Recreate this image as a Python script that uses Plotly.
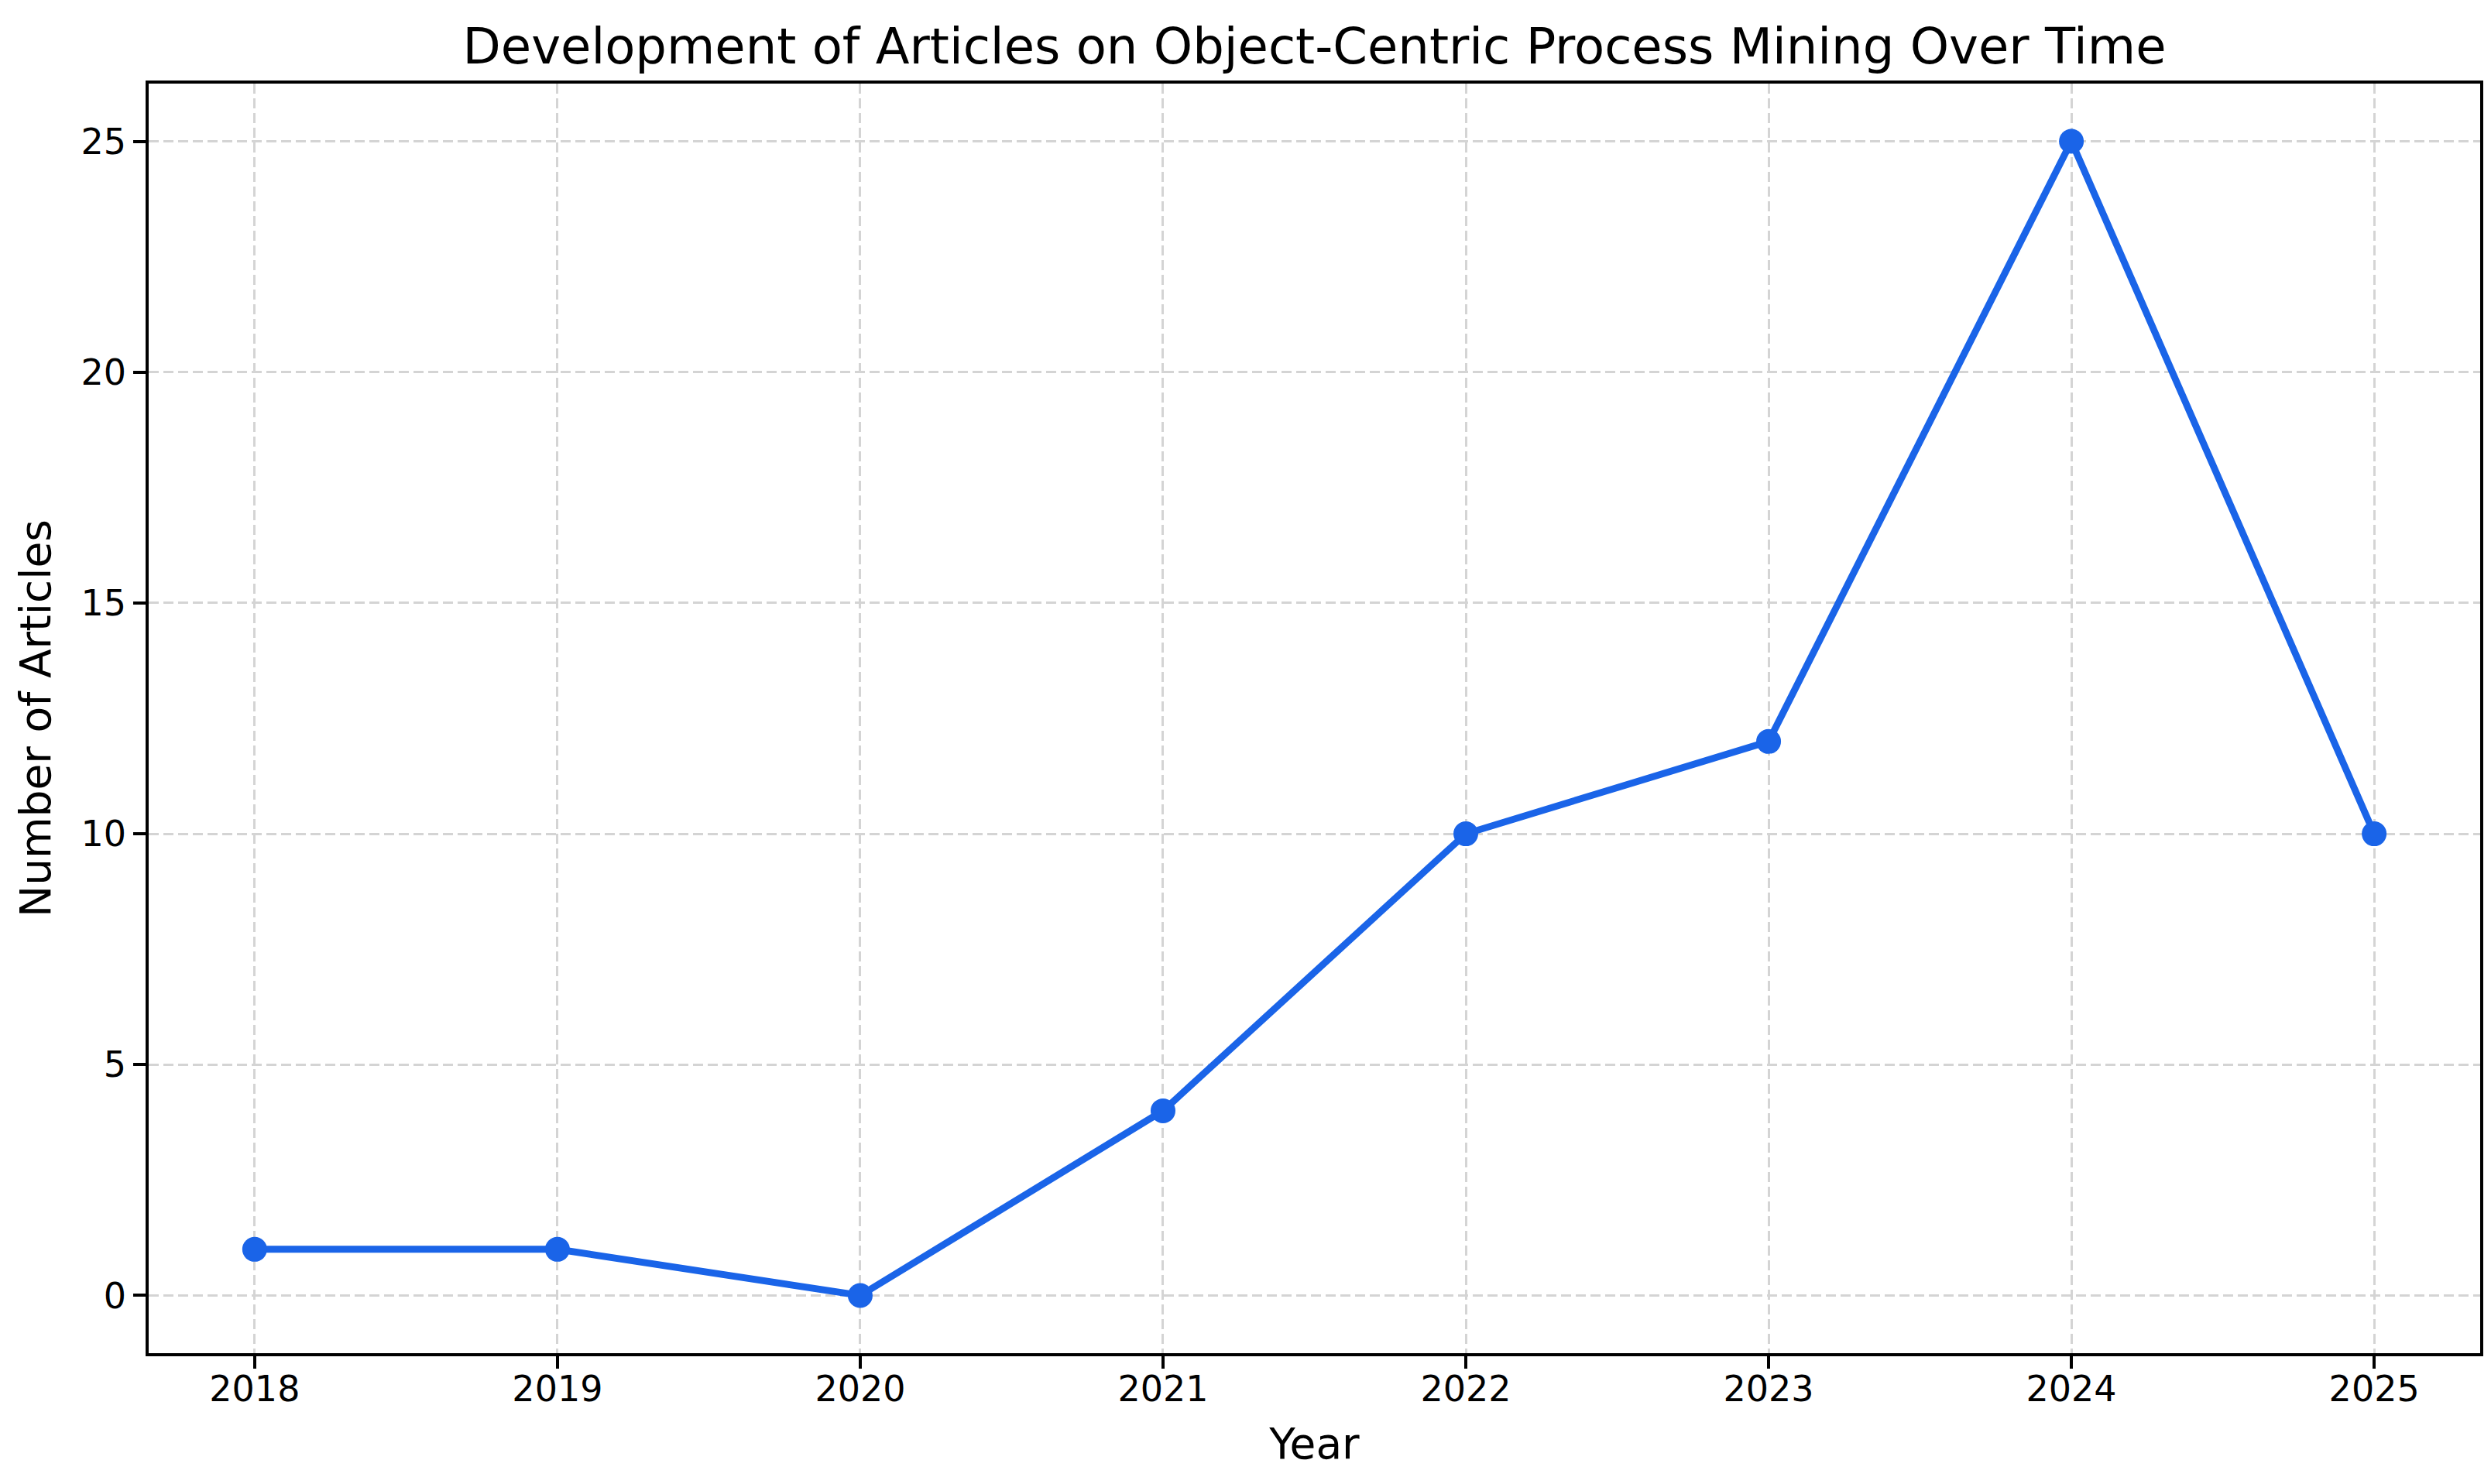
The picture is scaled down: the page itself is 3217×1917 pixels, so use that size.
import plotly.graph_objects as go

years = [2018, 2019, 2020, 2021, 2022, 2023, 2024, 2025]
articles = [1, 1, 0, 4, 10, 12, 25, 10]
y_ticks = [0, 5, 10, 15, 20, 25]

title_text = "Development of Articles on Object-Centric Process Mining Over Time"
x_label = "Year"
y_label = "Number of Articles"

FONT = "DejaVu Sans"
LINE_COLOR = "#1a64e8"
GRID_COLOR = "#d4d4d4"

W, H = 3209, 1909  # page body has an 8px default margin

fig = go.Figure()
fig.add_trace(go.Scatter(
    x=years, y=articles, mode="lines+markers",
    line=dict(color=LINE_COLOR, width=8.9),
    marker=dict(color=LINE_COLOR, size=32, line=dict(width=0)),
    showlegend=False,
))

axis_common = dict(
    showline=True, linecolor="black", linewidth=3.5, mirror=True,
    ticks="outside", ticklen=16, tickwidth=3.5, tickcolor="black",
    tickfont=dict(family=FONT, size=46, color="black"),
    showgrid=True, gridcolor=GRID_COLOR, gridwidth=3, griddash="13px,6px",
    zeroline=False, automargin=False,
)

fig.update_layout(
    width=W, height=H,
    margin=dict(l=184, r=14, t=100, b=169),
    paper_bgcolor="white", plot_bgcolor="white",
    template="none",
    title=dict(text=title_text, font=dict(family=FONT, size=64, color="black"),
               x=0.5, xref="paper", xanchor="center",
               y=1 - 52 / H, yref="container", yanchor="middle"),
    xaxis=dict(range=[2017.65, 2025.35], tickvals=years, ticktext=[str(y) for y in years],
               ticklabelstandoff=-13,
               title=dict(text=x_label, font=dict(family=FONT, size=55, color="black"), standoff=27),
               **axis_common),
    yaxis=dict(range=[-1.25, 26.25], tickvals=y_ticks,
               title=dict(text=y_label, font=dict(family=FONT, size=55, color="black"), standoff=22),
               **axis_common),
    font=dict(family=FONT, color="black"),
)

fig.write_html("out.html", config={"displayModeBar": False})
